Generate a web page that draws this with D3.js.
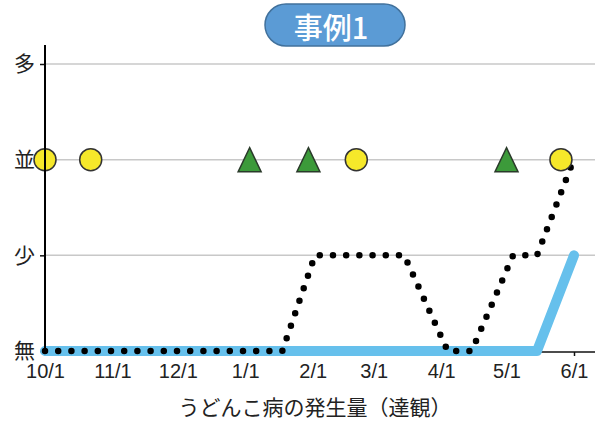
<!DOCTYPE html>
<html>
<head>
<meta charset="utf-8">
<script src="https://cdn.jsdelivr.net/npm/d3@7"></script>
<style>
  body { margin: 0; background: #fff; }
  svg { display: block; }
</style>
</head>
<body>
<svg id="canvas"></svg>
<script>
// Levels on the y axis, bottom to top
const levels = ['無', '少', '並', '多'];
// Month ticks along the season
const monthTicks = ['10/1', '11/1', '12/1', '1/1', '2/1', '3/1', '4/1', '5/1', '6/1'];

// Dotted line (black)
const dotDates = ['10/1', '1/18', '2/2', '3/15', '4/4', '4/15', '5/4', '5/15', '5/31'];
const dotValues = [0, 0, 1, 1, 0, 0, 1, 1, 1.95];

// Thick blue line
const blueDates = ['10/1', '5/15', '6/1'];
const blueValues = [0, 0, 1];

// Markers sitting on the 並 level
const circleDates = ['10/1', '10/22', '2/21', '5/26'];
const triangleDates = ['1/3', '1/30', '5/1'];
const markerLevel = 2;

// "M/D" -> Date; Oct-Dec belong to the first year of the season
const parseMD = (s) => {
   const [m, d] = s.split('/').map(Number);
   return new Date(m >= 10 ? 2020 : 2021, m - 1, d);
};

const width = 595;
const height = 423;

const svg = d3.select('#canvas')
               .attr('width', width)
               .attr('height', height);

const x = d3.scaleTime()
            .domain([parseMD('10/1'), parseMD('6/1')])
            .range([45, 574]);

const y = d3.scaleLinear()
            .domain([0, 3])
            .range([351, 64]);

// Gridlines
svg.append('g')
   .selectAll('line')
   .data([1, 2, 3])
   .join('line')
   .attr('x1', 45)
   .attr('x2', width)
   .attr('y1', (d) => y(d))
   .attr('y2', (d) => y(d))
   .attr('stroke', '#c8c8c8')
   .attr('stroke-width', 1.5);

// x axis
const xAxis = d3.axisBottom(x)
                .tickValues(monthTicks.map(parseMD))
                .tickFormat((d, i) => monthTicks[i])
                .tickSize(4)
                .tickSizeOuter(0)
                .tickPadding(8);
const gx = svg.append('g')
               .attr('transform', `translate(0, ${y(0) + 1})`)
               .call(xAxis);
gx.select('.domain').remove();
gx.selectAll('line').attr('stroke', '#111').attr('stroke-width', 1.5);
gx.selectAll('text')
  .attr('fill', '#222')
  .style('font-family', '"Liberation Sans", Arial, sans-serif')
  .style('font-size', '20px');
svg.append('line')
   .attr('x1', 45).attr('x2', width)
   .attr('y1', y(0) + 1).attr('y2', y(0) + 1)
   .attr('stroke', '#111').attr('stroke-width', 1.5);

// y axis labels and ticks
const yAxis = d3.axisLeft(y)
                .tickValues([0, 1, 2, 3])
                .tickFormat((d) => levels[d])
                .tickSize(5)
                .tickPadding(5);
const gy = svg.append('g')
               .attr('transform', 'translate(45, 0)')
               .call(yAxis);
gy.select('.domain').remove();
gy.selectAll('line').attr('stroke', '#111').attr('stroke-width', 1.5);
gy.selectAll('text')
  .attr('fill', '#222')
  .style('font-family', '"Noto Sans CJK JP", sans-serif')
  .style('font-size', '21px');

// Lines
const line = d3.line()
               .x((d) => x(d.date))
               .y((d) => y(d.value));

const blueData = blueDates.map((d, i) => ({ date: parseMD(d), value: blueValues[i] }));
svg.append('path')
   .datum(blueData)
   .attr('d', line)
   .attr('fill', 'none')
   .attr('stroke', '#66c0ec')
   .attr('stroke-width', 10)
   .attr('stroke-linecap', 'round')
   .attr('stroke-linejoin', 'round');

const dotData = dotDates.map((d, i) => ({ date: parseMD(d), value: dotValues[i] }));
svg.append('path')
   .datum(dotData)
   .attr('d', line)
   .attr('fill', 'none')
   .attr('stroke', '#000')
   .attr('stroke-width', 6.5)
   .attr('stroke-linecap', 'round')
   .attr('stroke-dasharray', '0 13.2');

// Markers
svg.append('g')
   .selectAll('circle')
   .data(circleDates)
   .join('circle')
   .attr('cx', (d) => x(parseMD(d)))
   .attr('cy', y(markerLevel))
   .attr('r', 11)
   .attr('fill', '#f6e82a')
   .attr('stroke', '#333')
   .attr('stroke-width', 1.5);

svg.append('g')
   .selectAll('path')
   .data(triangleDates)
   .join('path')
   .attr('d', 'M0,-12L11.5,12L-11.5,12Z')
   .attr('transform', (d) => `translate(${x(parseMD(d))}, ${y(markerLevel)})`)
   .attr('fill', '#3c9a3a')
   .attr('stroke', '#2a3a2a')
   .attr('stroke-width', 1.5);

// y axis line, drawn over the first marker
svg.append('line')
   .attr('x1', 45).attr('x2', 45)
   .attr('y1', 45).attr('y2', y(0))
   .attr('stroke', '#000')
   .attr('stroke-width', 2);

// Title pill
svg.append('rect')
   .attr('x', 265).attr('y', 4)
   .attr('width', 140).attr('height', 42)
   .attr('rx', 21)
   .attr('fill', '#5b9bd5')
   .attr('stroke', '#41719c')
   .attr('stroke-width', 1.5);
svg.append('text')
   .attr('x', 331).attr('y', 26)
   .attr('text-anchor', 'middle')
   .attr('dominant-baseline', 'central')
   .attr('fill', '#fff')
   .style('font-family', '"Noto Sans CJK JP", sans-serif')
   .style('font-size', '29px')
   .style('font-weight', 500)
   .text('事例1');

// Axis title
svg.append('text')
   .attr('x', 315).attr('y', 415)
   .attr('text-anchor', 'middle')
   .attr('fill', '#222')
   .style('font-family', '"Noto Sans CJK JP", sans-serif')
   .style('font-size', '21px')
   .text('うどんこ病の発生量（達観）');
</script>
</body>
</html>
